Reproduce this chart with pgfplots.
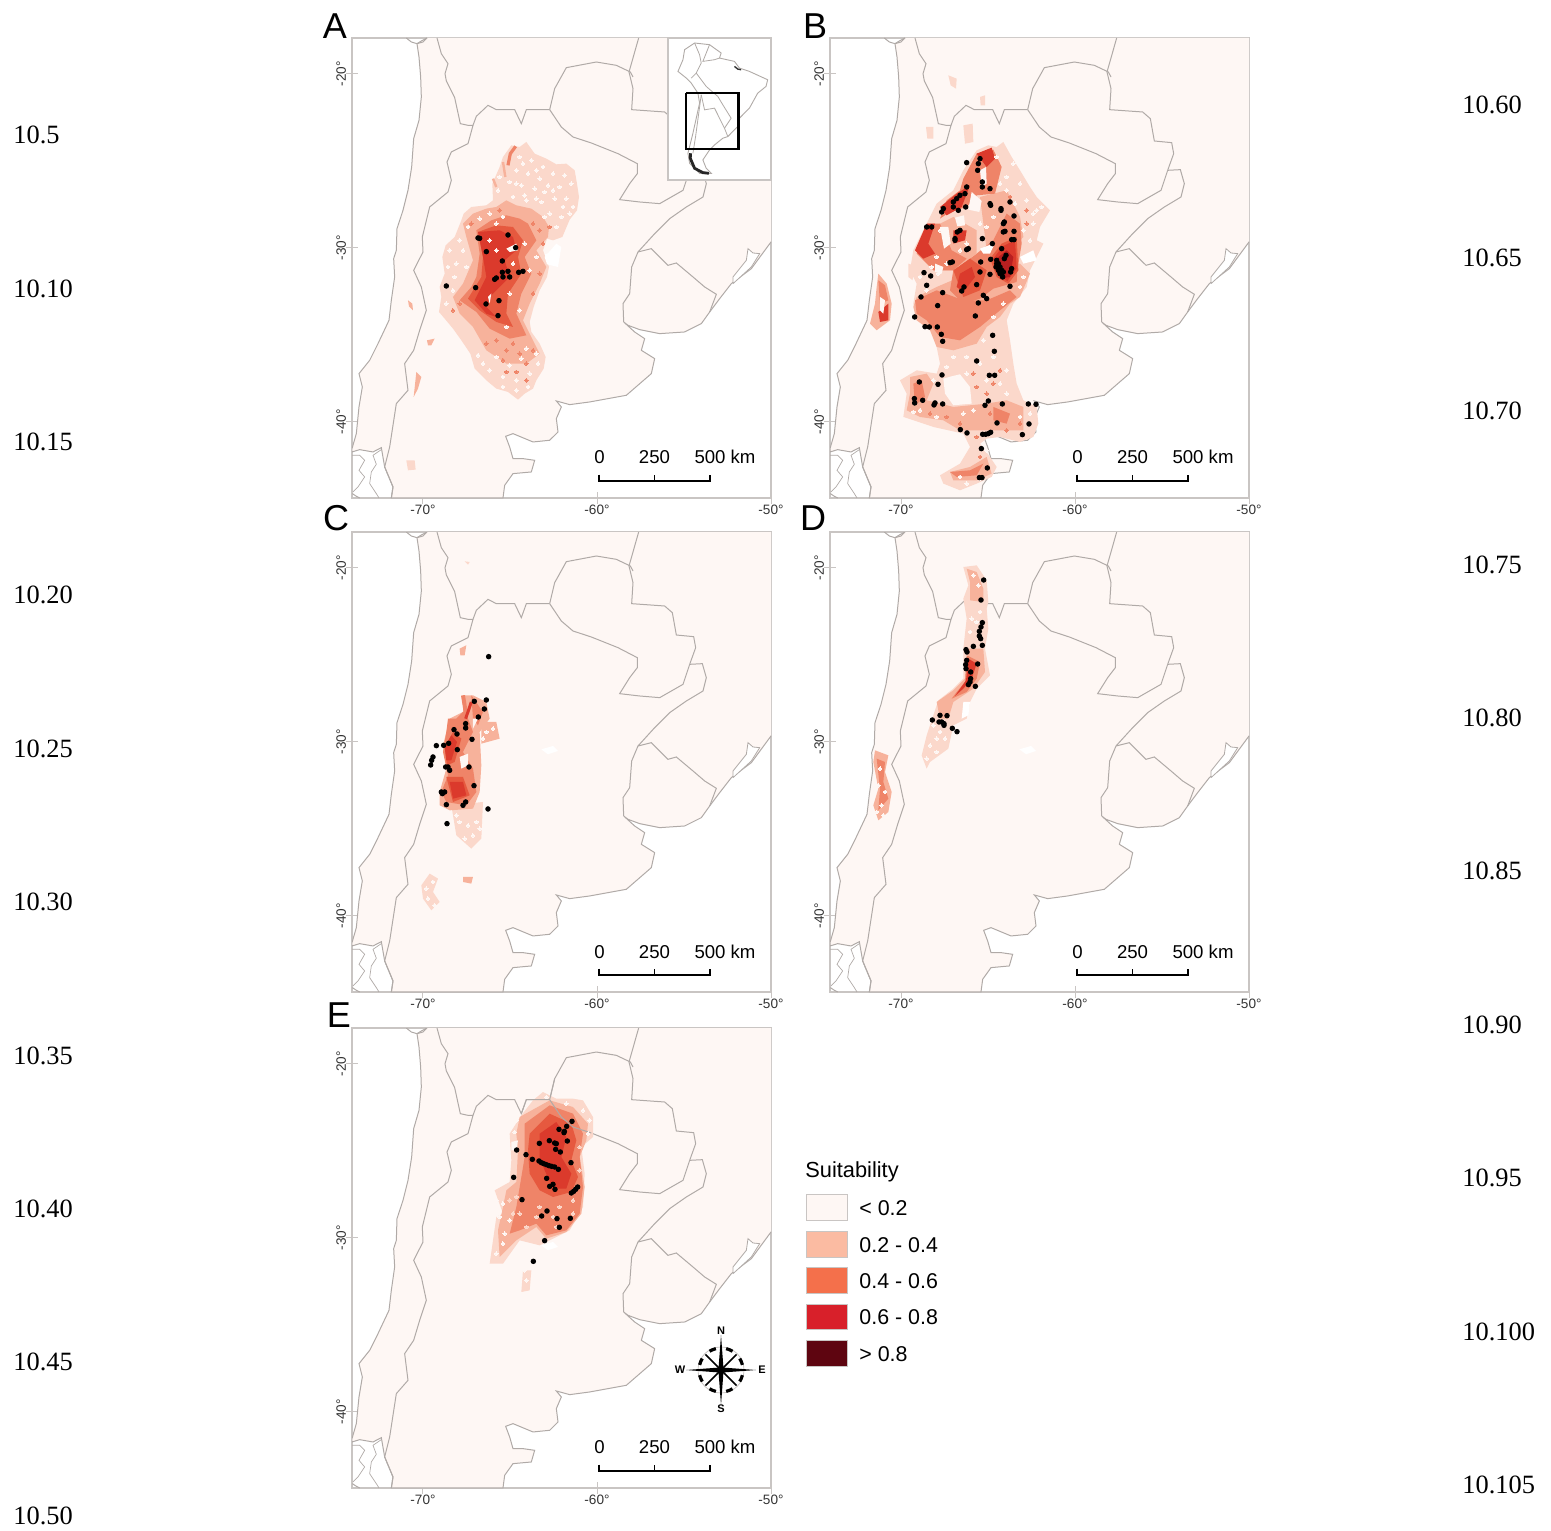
\documentclass[border=0pt]{standalone}
\usepackage{pgfplots}
\pgfplotsset{compat=1.18}
\usepackage{fontspec}
\setmainfont{Liberation Sans}
\newfontfamily\serifl{Liberation Serif}
\definecolor{land}{HTML}{FEF7F4}
\definecolor{cA}{HTML}{FBD8CB}
\definecolor{cB}{HTML}{F7B29B}
\definecolor{cC}{HTML}{EF8468}
\definecolor{cF}{HTML}{E6593F}
\definecolor{cD}{HTML}{DB3A2C}
\definecolor{cE}{HTML}{B81F20}
\definecolor{bord}{HTML}{B0AAA7}
\definecolor{frm}{HTML}{C9C5C3}
\def\xo{250}\def\yo{190}
\pgfplotsset{table/mapt/.style={row sep=\\,header=false,x expr={-70+(\thisrowno{0}-\xo)/52.2},y expr={-20-(\thisrowno{1}-\yo)/52.2}}}
\newcommand\poly[2]{\addplot[draw=none,fill=#1,forget plot] table[mapt]{#2};}
\newcommand\bl[1]{\addplot[draw=bord,line width=0.5pt,no marks,forget plot] table[mapt]{#1};}
\newcommand\pts[1]{\addplot[only marks,mark=*,mark size=1.15pt,black,forget plot] table[mapt]{#1};}
\newcommand\flk[3][0.9pt]{\addplot[only marks,mark=*,mark size=#1,color=#2,mark options={draw=#2,fill=#2,line width=0pt},forget plot] table[mapt]{#3};}
\newcommand\stk[3]{\addplot[draw=#1,line width=#2,no marks,line join=round,forget plot] table[mapt]{#3};}
\newcommand\basemap{%
\def\xo{250}\def\yo{190}%
\addplot[draw=bord,line width=0.5pt,fill=land,forget plot] table[mapt]{262 83\\245 92\\232 100\\238 140\\243 200\\245 260\\238 330\\222 385\\216 470\\205 540\\190 600\\172 655\\170 720\\162 745\\165 800\\155 870\\148 930\\115 1000\\90 1050\\58 1090\\68 1130\\58 1190\\50 1270\\37 1315\\37 1325\\60 1318\\100 1325\\125 1312\\135 1370\\160 1430\\155 1463\\490 1463\\495 1425\\520 1390\\575 1385\\585 1350\\550 1345\\520 1345\\510 1310\\498 1278\\520 1270\\580 1295\\630 1290\\655 1265\\650 1225\\665 1190\\650 1172\\690 1183\\750 1175\\860 1155\\935 1090\\945 1045\\905 1020\\915 985\\885 965\\852 935\\865 945\\900 958\\960 970\\1035 965\\1085 940\\1110 905\\1140 865\\1175 820\\1235 775\\1294 695\\1300 695\\1300 83\\};
\addplot[draw=bord,line width=0.4pt,fill=white,forget plot] table[mapt]{1180 820\\1180 800\\1220 750\\1225 715\\1240 728\\1260 730\\1235 770\\1180 820\\};
\poly{white}{605 735\\640 725\\655 740\\625 750\\}
\bl{200 83\\215 95\\232 100\\250 95\\262 83\\}
\bl{292 83\\305 130\\325 160\\316 190\\320 212\\345 262\\362 340\\385 345\\400 345\\410 318\\445 285\\470 298\\525 298\\545 340\\560 298\\630 298\\}
\bl{400 345\\385 400\\335 425\\322 455\\335 510\\325 545\\270 590\\248 680\\250 725\\222 780\\245 830\\260 900\\240 960\\222 1020\\195 1060\\205 1140\\170 1180\\160 1245\\150 1310\\135 1370\\160 1430\\155 1463\\}
\bl{630 298\\645 235\\680 172\\770 155\\830 165\\872 185\\880 200\\}
\bl{897 83\\868 185\\880 235\\876 298\\975 305\\998 325\\1010 392\\1062 397\\1068 430\\1050 480\\}
\bl{630 298\\665 350\\700 380\\755 398\\835 430\\893 460\\893 490\\870 520\\840 568\\900 575\\960 580\\1030 540\\1050 480\\}
\bl{1050 480\\1088 478\\1100 520\\1090 560\\1040 590\\990 625\\945 670\\895 725\\}
\bl{895 725\\935 715\\985 765\\1010 758\\1060 800\\1095 830\\1130 852\\1110 905\\}
\bl{895 725\\876 770\\870 850\\850 880\\852 935\\}
\addplot[draw=bord,line width=0.35pt,no marks,forget plot] table[mapt]{37 1335\\60 1335\\75 1350\\58 1380\\75 1400\\55 1430\\40 1445\\};
\addplot[draw=bord,line width=0.35pt,no marks,forget plot] table[mapt]{125 1318\\100 1335\\110 1362\\95 1385\\90 1420\\110 1450\\118 1463\\};
\bl{38 1450\\50 1458\\60 1463\\}
}
\newcommand\scalebar{%
\def\xo{250}\def\yo{190}%
\addplot[draw=black,line width=1.15pt,no marks,forget plot] table[mapt]{778 1393\\778 1413\\1112 1413\\1112 1393\\};
\addplot[draw=black,line width=0.8pt,no marks,forget plot] table[mapt]{945 1413\\945 1393\\};
}
\pgfplotsset{mapax/.style={scale only axis,width=209.5pt,height=230pt,anchor=north west,
 xmin=-74.08,xmax=-50,ymin=-44.39,ymax=-17.95,clip=true,
 xtick={-70,-60,-50},xticklabels={-70°,-60°,-50°},ytick={-40,-30,-20},yticklabels={-40°,-30°,-20°},
 xtick pos=bottom,ytick pos=left,tick align=center,major tick length=6pt,
 tick style={draw=frm,line width=0.5pt},axis line style={draw=frm,line width=0.6pt},
 tick label style={font=\fontsize{6.8}{7}\selectfont,text=black!80},
 yticklabel style={rotate=90,anchor=south},
 xticklabel shift=-3pt,yticklabel shift=-3.5pt}}
\begin{document}
\begin{tikzpicture}
\path[use as bounding box] (0,0) rectangle (775.5pt,-765pt);
% ---------- A
\begin{axis}[mapax,at={(176pt,-19pt)}]
\basemap
\def\xo{250}\def\yo{190}
\poly{cA}{515 405\\540 410\\560 395\\585 430\\620 445\\650 462\\680 460\\705 480\\712 520\\718 560\\712 600\\690 628\\668 680\\640 690\\622 685\\610 720\\628 770\\622 800\\600 840\\582 890\\570 935\\575 965\\600 1000\\618 1040\\612 1075\\590 1110\\580 1135\\555 1150\\535 1168\\505 1145\\470 1135\\440 1110\\405 1075\\392 1030\\365 990\\340 955\\315 925\\298 905\\305 860\\300 830\\315 790\\308 740\\318 705\\345 680\\365 630\\372 610\\395 590\\440 585\\460 570\\458 520\\480 470\\490 440\\}
\poly{cB}{400 610\\440 595\\470 590\\500 570\\530 585\\575 595\\610 620\\628 650\\625 680\\590 720\\620 770\\600 820\\570 880\\550 930\\575 980\\600 1030\\560 1060\\500 1060\\440 1020\\400 950\\360 910\\340 860\\370 820\\400 750\\380 680\\370 640\\}
\poly{cC}{410 660\\455 630\\500 615\\540 625\\565 640\\590 690\\555 740\\575 790\\545 850\\530 910\\560 975\\510 985\\450 955\\410 905\\360 870\\395 830\\410 800\\420 730\\}
\poly{cF}{415 665\\470 645\\520 650\\550 690\\535 740\\545 790\\505 850\\500 910\\520 950\\470 935\\420 900\\385 865\\425 800\\430 740\\}
\poly{cD}{415 665\\480 660\\520 680\\530 720\\495 750\\510 800\\450 860\\440 890\\470 920\\440 910\\405 870\\440 800\\430 740\\}
\stk{cC}{1.6pt}{505 465\\512 430\\528 408\\}
\stk{cB}{1.2pt}{460 505\\470 530\\}
\stk{cB}{1.2pt}{490 455\\497 500\\}
\poly{cB}{205 870\\218 880\\220 900\\208 888\\}
\poly{cB}{262 990\\285 985\\275 1005\\265 1005\\}
\poly{cB}{230 1085\\245 1100\\235 1135\\222 1160\\}
\poly{cA}{200 1350\\225 1350\\228 1378\\205 1380\\}
\poly{white}{615 740\\650 700\\665 710\\655 770\\622 762\\}
\poly{land}{445 860\\455 850\\450 880\\}
\poly{land}{500 715\\530 700\\535 720\\510 725\\}
\flk{land}{540 440\\575 450\\610 470\\530 480\\565 490\\600 505\\640 490\\675 495\\510 515\\545 525\\585 535\\625 525\\660 530\\695 520\\520 560\\560 570\\605 575\\645 565\\680 565\\700 590\\630 610\\665 620\\650 650\\690 610\\480 500\\475 540\\450 1080\\490 1100\\530 1110\\570 1090\\595 1060\\510 1065\\470 1040\\545 1045\\490 1130\\530 1140\\565 1130\\430 1060\\590 1030\\415 1035\\560 1015\\330 720\\350 760\\325 770\\345 800\\370 720\\360 690\\385 650\\420 625\\450 610\\470 640\\490 620\\380 770\\340 840\\320 880\\450 690\\470 720\\520 760\\510 850\\570 780\\590 740\\555 700\\500 950\\540 900\\590 565\\615 545\\555 555\\530 520\\640 540\\670 590\\550 460\\590 480\\615 620\\}
\flk{cC}{520 1000\\500 1020\\540 1030\\560 1060\\490 1050\\470 990\\580 1020\\440 1000\\580 640\\600 660\\630 650\\480 600\\530 1085\\560 1110\\500 1085\\610 700\\600 790\\580 850\\340 900\\360 880\\395 640\\}
\pts{415 683\\420 684\\505 674\\528 712\\440 724\\488 752\\488 786\\505 783\\537 786\\550 783\\490 800\\510 800\\470 803\\465 807\\320 827\\408 832\\478 871\\439 881\\475 916\\}
\scalebar
\end{axis}
% inset
\begin{axis}[scale only axis,width=51.5pt,height=71pt,anchor=north west,at={(334pt,-19pt)},
 xmin=25,xmax=335,ymin=25,ymax=450,y dir=reverse,xtick=\empty,ytick=\empty,
 axis background/.style={fill=white},axis line style={draw=frm,line width=0.6pt}]
\addplot[draw=bord,line width=0.45pt,no marks] coordinates {(105,40)(150,45)(185,70)(180,85)(225,95)(240,115)(270,125)(325,150)(320,170)(295,190)(270,235)(240,265)(235,290)(205,320)(190,325)(165,345)(150,360)(130,390)(140,415)(155,430)(120,430)(90,400)(85,370)(100,310)(120,220)(115,190)(95,160)(80,145)(55,125)(70,90)(75,60)(105,40)};
\addplot[draw=bord,line width=0.4pt,no marks] coordinates {(105,40)(120,75)(125,100)(110,130)(95,145)};
\addplot[draw=bord,line width=0.4pt,no marks] coordinates {(150,45)(130,95)(165,90)(180,85)};
\addplot[draw=bord,line width=0.4pt,no marks] coordinates {(110,130)(140,170)(175,200)(190,225)(215,265)(195,295)(205,320)};
\addplot[draw=bord,line width=0.4pt,no marks] coordinates {(125,195)(135,240)(165,235)(195,295)};
\addplot[draw=bord,line width=0.4pt,no marks] coordinates {(125,195)(108,320)(100,370)};
\addplot[draw=black!85,line width=1.4pt,no marks] coordinates {(93,370)(92,385)(105,415)(130,428)(148,430)};
\addplot[draw=black!80,line width=0.7pt,no marks] coordinates {(225,110)(235,118)(245,120)};
\addplot[draw=black,line width=1.1pt,no marks] coordinates {(80,190)(237,190)(237,358)(80,358)(80,190)};
\end{axis}
% ---------- B
\begin{axis}[mapax,at={(415pt,-19pt)}]
\basemap
\def\xo{243}\def\yo{190}
\poly{cA}{505 405\\530 410\\550 395\\575 440\\600 480\\630 530\\650 560\\690 600\\672 630\\660 650\\650 690\\670 700\\650 740\\630 780\\620 830\\580 880\\560 930\\570 990\\580 1060\\590 1120\\610 1170\\650 1190\\655 1240\\640 1280\\600 1295\\540 1280\\500 1285\\480 1300\\510 1340\\530 1370\\515 1400\\470 1420\\420 1440\\370 1420\\360 1395\\420 1360\\450 1310\\430 1270\\340 1250\\250 1220\\260 1150\\240 1110\\290 1080\\350 1090\\360 1060\\350 1010\\330 950\\290 930\\280 880\\290 820\\270 780\\280 720\\310 660\\350 580\\400 540\\430 480\\470 420\\}
\poly{land}{370 1105\\395 1098\\420 1092\\450 1130\\455 1180\\400 1185\\375 1150\\}
\poly{cB}{290 860\\350 830\\420 800\\500 760\\600 760\\630 790\\600 860\\570 880\\540 920\\500 950\\470 1000\\400 1020\\350 1010\\330 960\\290 930\\280 890\\}
\poly{cB}{480 560\\560 540\\600 620\\610 680\\570 720\\500 720\\}
\poly{cB}{270 1100\\320 1090\\340 1120\\320 1170\\400 1190\\500 1180\\560 1170\\610 1190\\610 1260\\550 1260\\480 1260\\420 1260\\370 1230\\300 1220\\260 1200\\270 1150\\}
\poly{cB}{390 1385\\450 1370\\500 1340\\515 1390\\470 1410\\400 1410\\}
\poly{cC}{285 870\\350 840\\430 870\\500 870\\570 840\\590 860\\540 900\\480 950\\420 990\\360 980\\320 930\\290 910\\}
\poly{cC}{400 780\\470 730\\520 690\\560 610\\600 640\\605 700\\592 780\\590 815\\520 835\\480 865\\430 880\\390 840\\}
\poly{cC}{520 1190\\570 1210\\560 1240\\520 1230\\}
\poly{cC}{390 1385\\450 1380\\490 1360\\470 1395\\410 1400\\}
\poly{cC}{280 1120\\305 1110\\315 1160\\285 1185\\}
\poly{cB}{340 650\\400 620\\470 660\\470 730\\400 780\\340 780\\}
\poly{cC}{430 505\\470 430\\520 418\\545 470\\525 550\\470 555\\440 590\\390 605\\360 625\\380 570\\420 540\\}
\poly{cC}{290 730\\322 640\\360 640\\395 720\\440 745\\400 780\\340 780\\310 750\\}
\poly{cF}{400 780\\450 745\\500 780\\480 840\\430 860\\}
\poly{cF}{510 745\\545 700\\590 680\\595 780\\565 820\\530 800\\}
\poly{cD}{520 745\\548 708\\585 690\\590 775\\562 812\\535 795\\}
\poly{cD}{285 720\\320 640\\345 640\\325 700\\345 730\\310 745\\}
\poly{cD}{360 590\\410 550\\450 525\\425 590\\380 615\\}
\poly{cD}{470 430\\515 412\\525 445\\500 470\\}
\poly{cD}{400 660\\440 660\\435 690\\400 700\\}
\poly{cD}{420 790\\455 770\\465 800\\430 845\\410 830\\}
\poly{cE}{530 745\\560 720\\580 740\\570 800\\540 805\\}
\poly{cA}{265 760\\280 765\\278 810\\265 800\\}
\poly{cA}{430 345\\458 340\\460 395\\435 400\\}
\poly{cA}{318 350\\340 350\\340 385\\322 385\\}
\poly{cA}{385 195\\410 205\\408 235\\392 225\\}
\poly{cA}{480 260\\495 255\\495 285\\482 285\\}
\poly{cB}{175 790\\200 820\\215 880\\210 930\\170 960\\150 940\\165 880\\170 830\\}
\poly{cD}{175 905\\205 880\\205 930\\180 935\\}
\poly{cC}{175 810\\195 825\\205 870\\180 880\\}
\poly{land}{180 860\\195 870\\190 910\\180 900\\}
\poly{land}{455 545\\485 572\\478 605\\445 598\\}
\poly{land}{405 622\\432 615\\435 645\\412 648\\}
\poly{land}{480 480\\498 470\\500 520\\485 530\\}
\poly{land}{360 650\\385 650\\392 700\\372 715\\}
\poly{land}{345 760\\370 770\\365 790\\345 785\\}
\poly{white}{480 715\\525 698\\510 730\\490 730\\}
\poly{white}{600 740\\640 720\\650 750\\610 760\\}
\flk{land}{600 520\\620 570\\650 600\\640 640\\560 500\\580 460\\530 440\\610 660\\630 690\\640 610\\665 590\\560 540\\585 580\\540 520\\360 660\\375 700\\350 740\\335 770\\355 790\\380 760\\300 800\\320 840\\420 720\\440 700\\500 650\\520 620\\480 640\\610 800\\600 830\\550 880\\520 920\\490 990\\440 1040\\400 1040\\380 1070\\440 1090\\480 1060\\520 1040\\560 1080\\500 1110\\460 1200\\430 1210\\600 1220\\630 1210\\560 1150\\540 1120\\300 1200\\280 1205\\350 1220\\420 1400\\440 1420\\480 1405\\500 1320\\340 1110\\}
\flk{cC}{380 880\\400 930\\440 940\\350 900\\310 890\\520 1120\\500 1150\\470 1130\\540 1080\\460 1090\\420 1240\\380 1220\\330 1210\\470 1280\\480 1340\\560 1260\\600 1240\\510 1210\\620 640\\620 600\\570 560\\}
\pts{440 457\\480 445\\475 460\\473 480\\487 515\\487 530\\510 535\\440 530\\435 550\\420 555\\410 565\\400 575\\400 590\\370 595\\365 605\\415 600\\437 590\\510 580\\512 585\\543 595\\543 600\\570 575\\582 617\\553 635\\550 640\\550 665\\555 663\\582 663\\582 688\\575 688\\320 650\\335 650\\420 660\\412 665\\405 685\\405 690\\487 685\\517 700\\445 715\\440 718\\545 715\\558 735\\553 745\\390 757\\397 755\\482 755\\512 747\\530 750\\530 760\\528 770\\535 780\\545 790\\548 800\\575 775\\572 785\\480 785\\510 792\\312 787\\332 797\\320 825\\570 828\\432 830\\425 842\\470 823\\368 847\\490 855\\500 865\\303 860\\475 878\\353 886\\284 920\\466 917\\315 949\\328 950\\352 950\\364 972\\368 993\\518 975\\523 1023\\470 1052\\366 1094\\508 1095\\524 1095\\298 1115\\354 1122\\283 1165\\284 1178\\308 1170\\345 1178\\342 1184\\368 1181\\505 1172\\495 1185\\547 1181\\625 1181\\648 1182\\531 1238\\627 1241\\421 1258\\441 1268\\488 1272\\497 1272\\505 1270\\512 1266\\607 1273\\484 1315\\502 1373\\478 1402\\486 1402\\535 760\\540 770\\545 780\\550 785\\540 790\\}
\scalebar
\end{axis}
% ---------- C
\begin{axis}[mapax,at={(176pt,-266pt)}]
\basemap
\def\xo{250}\def\yo{187}
\poly{cA}{335 900\\430 890\\425 1000\\395 1030\\350 990\\}
\poly{cB}{425 650\\470 650\\480 700\\425 715\\}
\poly{cB}{370 570\\400 570\\440 590\\450 640\\420 680\\425 780\\420 860\\400 910\\330 915\\300 900\\300 860\\320 790\\310 720\\330 640\\370 620\\}
\stk{cC}{2pt}{370 570\\378 620\\350 660\\}
\poly{cC}{325 640\\350 640\\370 620\\385 640\\400 680\\370 740\\400 790\\410 860\\380 900\\320 890\\305 860\\325 810\\310 740\\320 680\\}
\poly{cC}{395 570\\430 620\\415 660\\400 640\\}
\poly{cF}{315 725\\340 680\\365 700\\345 770\\322 780\\}
\poly{cF}{320 815\\370 815\\390 870\\340 890\\}
\poly{cD}{330 830\\370 830\\380 870\\340 880\\}
\poly{cD}{315 725\\335 690\\352 710\\335 765\\320 765\\}
\stk{cD}{1.5pt}{378 640\\395 590\\}
\poly{land}{400 640\\415 640\\400 670\\}
\poly{land}{360 755\\385 745\\385 780\\365 790\\}
\poly{cB}{360 430\\380 420\\375 450\\362 450\\}
\poly{cA}{245 1140\\270 1105\\295 1120\\280 1160\\300 1190\\275 1215\\250 1180\\}
\poly{cB}{370 1115\\400 1115\\395 1135\\370 1130\\}
\poly{cA}{375 168\\390 170\\385 178\\}
\flk{land}{360 950\\385 960\\410 950\\350 930\\400 990\\375 1000\\420 970\\440 680\\460 670\\430 700\\260 1150\\280 1130\\265 1180\\285 1200\\}
\pts{447 454\\440 584\\404 588\\434 611\\416 635\\378 655\\378 668\\343 673\\352 686\\397 702\\327 714\\312 720\\290 721\\353 733\\280 755\\276 765\\273 779\\318 785\\325 785\\330 795\\388 785\\403 841\\305 860\\308 865\\315 860\\320 898\\370 900\\378 890\\445 911\\322 955\\}
\scalebar
\end{axis}
% ---------- D
\begin{axis}[mapax,at={(415pt,-266pt)}]
\basemap
\def\xo{243}\def\yo{187}
\poly{cA}{430 185\\470 180\\500 225\\505 290\\500 310\\505 370\\495 430\\510 510\\470 550\\450 590\\440 640\\400 660\\385 730\\330 770\\320 790\\305 750\\320 690\\340 630\\355 585\\400 550\\430 520\\430 430\\440 340\\430 280\\445 240\\}
\poly{cB}{440 190\\470 200\\490 250\\490 290\\450 285\\450 230\\}
\poly{cB}{445 430\\490 430\\495 500\\460 550\\400 590\\385 640\\360 640\\350 590\\400 555\\435 520\\}
\poly{cC}{440 450\\480 470\\470 520\\440 560\\395 580\\410 560\\435 530\\}
\poly{cD}{445 460\\470 475\\455 520\\430 550\\405 572\\438 525\\}
\poly{white}{430 590\\450 590\\445 630\\425 640\\}
\poly{cB}{165 735\\205 750\\195 800\\215 860\\205 920\\175 945\\160 900\\175 850\\160 770\\}
\poly{cC}{170 760\\195 770\\190 830\\205 880\\175 915\\180 850\\}
\flk{land}{455 340\\470 350\\450 380\\480 320\\350 700\\330 720\\360 680\\340 660\\375 700\\320 760\\350 740\\180 790\\175 840\\195 860\\185 900\\170 920\\190 930\\460 210\\475 240\\}
\pts{491 224\\483 284\\487 352\\483 365\\478 378\\478 392\\482 400\\487 420\\460 423\\438 433\\441 440\\440 465\\437 478\\438 490\\473 476\\452 500\\452 520\\450 530\\445 538\\466 543\\337 644\\360 630\\381 631\\357 650\\365 650\\372 655\\372 660\\397 669\\411 679\\}
\scalebar
\end{axis}
% ---------- E
\begin{axis}[mapax,at={(176pt,-514pt)}]
\basemap
\def\xo{250}\def\yo{190}
\poly{cA}{545 345\\580 300\\610 275\\650 295\\700 295\\730 300\\760 350\\760 410\\725 440\\735 520\\730 620\\690 690\\640 715\\600 735\\540 720\\490 790\\450 790\\460 720\\470 650\\490 640\\465 570\\510 545\\515 480\\510 400\\}
\poly{cA}{550 810\\575 810\\570 870\\545 875\\}
\poly{cB}{540 350\\630 300\\700 320\\745 370\\740 420\\720 470\\735 560\\725 640\\680 695\\620 715\\590 680\\530 720\\480 770\\475 690\\490 620\\500 570\\530 545\\535 450\\530 400\\}
\poly{cC}{555 370\\630 315\\700 340\\730 400\\720 470\\730 560\\720 640\\680 690\\620 705\\590 670\\540 690\\510 700\\530 620\\540 560\\555 470\\}
\poly{cF}{570 400\\630 340\\695 370\\710 420\\695 480\\715 530\\695 575\\640 590\\600 570\\570 520\\565 450\\}
\poly{cD}{600 400\\650 365\\680 410\\665 470\\695 520\\680 565\\640 565\\615 510\\600 470\\}
\poly{land}{515 425\\535 420\\530 450\\515 450\\}
\flk{land}{490 610\\480 650\\470 600\\510 660\\495 700\\490 730\\470 760\\555 810\\560 840\\530 360\\525 395\\750 360\\745 400\\730 330\\680 310\\620 290\\}
\flk{cA}{540 640\\560 680\\590 650\\640 650\\660 620\\700 600\\700 640\\530 590\\520 640\\510 600\\720 510\\720 440\\600 620\\650 680\\}
\bl{630 298\\665 350\\700 380\\755 398\\}
\bl{545 340\\560 298\\630 298\\645 235\\}
\pts{697 363\\681 378\\658 387\\674 393\\673 397\\683 422\\629 421\\645 428\\650 430\\599 429\\531 449\\648 447\\662 455\\559 463\\578 477\\598 482\\605 487\\612 490\\620 493\\628 496\\636 498\\645 500\\656 507\\694 487\\522 531\\621 534\\640 552\\630 558\\646 567\\714 560\\708 567\\702 573\\695 578\\547 598\\622 632\\606 647\\652 655\\692 654\\659 681\\615 721\\581 783\\}
\scalebar
\end{axis}
% ---------- text in reference pixels
\begin{scope}[x=0.5pt,y=-0.5pt]
\foreach \px/\py/\l in {335/26/A,815/26/B,336/518/C,813/518/D,339/1015/E}
  \node[font=\fontsize{18}{20}\selectfont,inner sep=0pt] at (\px,\py) {\l};
\foreach \dx/\dy in {0/0,478/0,0/495,478/495,0/990}{
 \begin{scope}[shift={(\dx,\dy)}]
 \node[font=\fontsize{9.3}{11}\selectfont,inner sep=0pt] at (599.5,457) {0};
 \node[font=\fontsize{9.3}{11}\selectfont,inner sep=0pt] at (654.5,457) {250};
 \node[font=\fontsize{9.3}{11}\selectfont,inner sep=0pt] at (725,457) {500 km};
 \end{scope}}
\foreach \yy/\l in {135/10.5,289/10.10,442/10.15,595/10.20,749/10.25,902/10.30,1056/10.35,1209/10.40,1362/10.45,1516/10.50}
  \node[font=\serifl\fontsize{13.2}{15}\selectfont,anchor=west,inner sep=0pt] at (13,\yy) {\l};
\foreach \yy/\l in {105/10.60,258/10.65,411/10.70,565/10.75,718/10.80,871/10.85,1025/10.90,1178/10.95,1332/10.100,1485/10.105}
  \node[font=\serifl\fontsize{13.2}{15}\selectfont,anchor=west,inner sep=0pt] at (1462,\yy) {\l};
% legend
\node[font=\fontsize{10.9}{13}\selectfont,anchor=west,inner sep=0pt] at (805,1172) {Suitability};
\definecolor{lA}{HTML}{FBBBA2}\definecolor{lB}{HTML}{F4704B}\definecolor{lC}{HTML}{D8202A}\definecolor{lD}{HTML}{5E0510}
\foreach \ya/\yb/\c/\l in {1194/1220/land/{< 0.2},1231/1257/lA/{0.2 - 0.4},1267/1293/lB/{0.4 - 0.6},1304/1329/lC/{0.6 - 0.8},1340/1366/lD/{> 0.8}}{
  \draw[draw=frm,line width=0.4pt,fill=\c] (806,\ya) rectangle (847,\yb);
  \pgfmathsetmacro\ym{(\ya+\yb)/2+1}
  \node[font=\fontsize{10.7}{13}\selectfont,anchor=west,inner sep=0pt] at (859,\ym) {\l};
}
% compass
\begin{scope}[shift={(721,1370)}]
\draw[draw=frm,line width=0.4pt] (0,0) circle (23);
\foreach \a in {22.5,67.5,112.5,157.5,202.5,247.5,292.5,337.5}
  \draw[line width=1.6pt] (\a-9:22) arc (\a-9:\a+9:22);
\foreach \a in {45,135,225,315}
  \draw[line width=0.8pt] (0,0) -- (\a:22);
\foreach \a in {0,90,180,270}
  \fill[black] (\a:35) -- (\a+90:2.6) -- (\a+180:1) -- (\a-90:2.6) -- cycle;
\foreach \x/\y/\l in {0/-39/N,0/39/S,-41/0/W,41/0/E}
  \node[font=\bfseries\fontsize{5.5}{6}\selectfont,inner sep=0pt] at (\x,\y) {\l};
\end{scope}
\end{scope}
\end{tikzpicture}
\end{document}
